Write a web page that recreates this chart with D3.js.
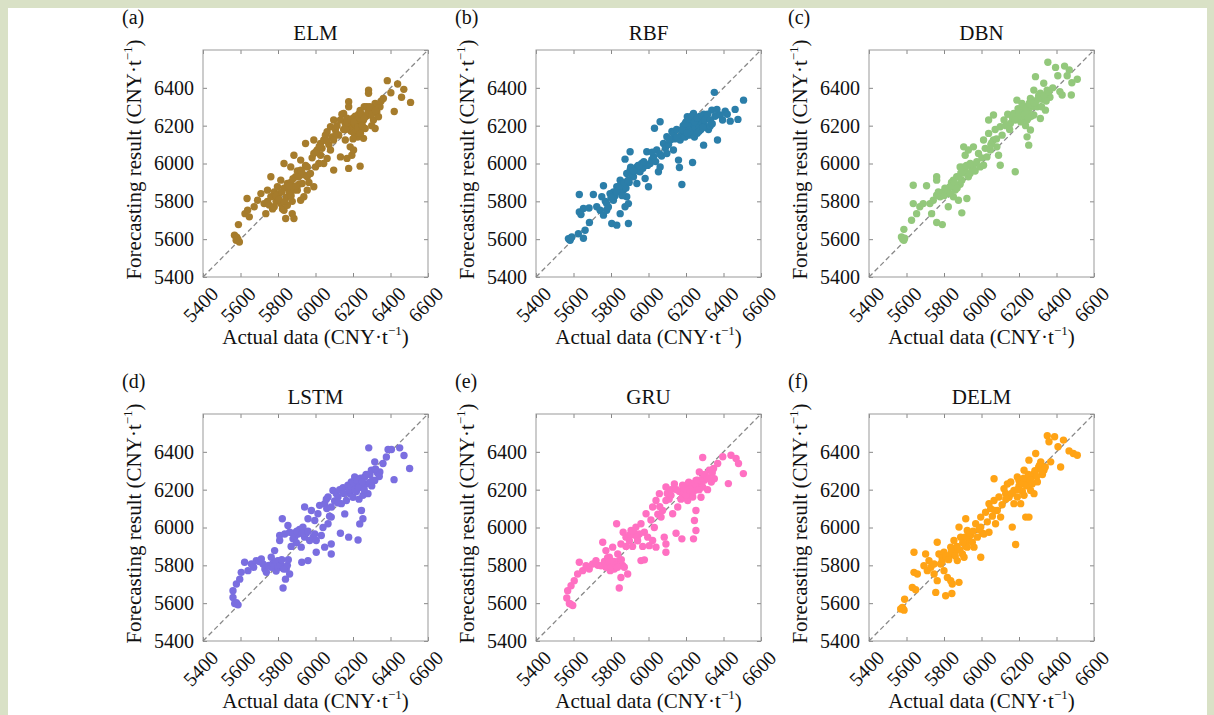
<!DOCTYPE html>
<html>
<head>
<meta charset="utf-8">
<script src="https://cdn.jsdelivr.net/npm/d3@7"></script>
<style>
  body { margin: 0; background: #d9e1c6; }
  svg { display: block; font-family: "Liberation Serif", "Times New Roman", serif; }
</style>
</head>
<body>
<svg id="chart" width="1214" height="715"></svg>
<script>
// forecast vs actual, CNY/t
const models = ["ELM", "RBF", "DBN", "LSTM", "GRU", "DELM"];
const panelTags = ["(a)", "(b)", "(c)", "(d)", "(e)", "(f)"];
const axisTicks = [5400, 5600, 5800, 6000, 6200, 6400, 6600];
const yTicks = [5400, 5600, 5800, 6000, 6200, 6400];

const elmPoints = [[5568,5621],[5577,5594],[5594,5585],[5586,5600],[5580,5610],[5589,5677],[5624,5735],[5635,5815],[5638,5753],[5647,5718],[5673,5771],[5691,5806],[5709,5841],[5726,5788],[5735,5735],[5744,5859],[5744,5800],[5753,5780],[5762,5930],[5762,5824],[5771,5760],[5780,5771],[5780,5850],[5790,5800],[5797,5877],[5797,5824],[5806,5840],[5815,5912],[5815,5788],[5824,5760],[5832,5753],[5832,6000],[5832,5870],[5841,5709],[5845,5820],[5850,5894],[5850,5779],[5859,5850],[5868,5982],[5868,5900],[5876,5735],[5876,5800],[5885,5709],[5885,6044],[5885,5860],[5894,5930],[5903,5859],[5903,5960],[5912,5890],[5921,6018],[5921,5965],[5921,5806],[5929,5894],[5938,5824],[5938,5940],[5947,6106],[5947,5990],[5956,5982],[5956,5930],[5956,5859],[5965,5900],[5973,5947],[5982,6030],[5991,6124],[5991,6053],[5991,5877],[6000,5982],[6009,6071],[6018,6000],[6027,6106],[6027,6044],[6035,6080],[6044,6124],[6044,6000],[6053,6150],[6062,6168],[6062,6027],[6071,6100],[6080,6194],[6080,6071],[6088,6140],[6097,6230],[6097,6124],[6097,5965],[6106,6180],[6115,6200],[6124,6150],[6133,6230],[6133,6035],[6141,6260],[6150,6265],[6150,6180],[6159,6124],[6159,6210],[6168,6027],[6168,6240],[6177,6327],[6177,6300],[6177,5974],[6180,6190],[6185,6088],[6185,6220],[6188,6195],[6190,6170],[6194,6044],[6194,6200],[6195,6215],[6198,6230],[6200,6240],[6203,6071],[6203,6194],[6205,6180],[6206,6160],[6210,6210],[6212,6250],[6215,6180],[6215,6205],[6220,6230],[6221,6212],[6225,6140],[6230,6260],[6238,6177],[6238,5986],[6238,6280],[6247,6220],[6256,6230],[6256,6133],[6260,6300],[6265,6185],[6270,6250],[6274,6300],[6283,6388],[6283,6371],[6291,6256],[6300,6200],[6309,6230],[6310,6290],[6318,6318],[6318,6185],[6327,6273],[6336,6247],[6344,6300],[6350,6330],[6362,6344],[6383,6438],[6402,6374],[6420,6275],[6438,6420],[6459,6350],[6471,6392],[6507,6323],
  [5790,5830],[5805,5810],[5820,5850],[5835,5800],[5860,5880],[5870,5830],[5880,5920],[5895,5880],[5910,5930],[5925,5960],[6160,6180],[6170,6215],[6190,6230],[6205,6220],[6225,6190],[6235,6240],[6245,6260],[6250,6200],[6260,6240],[6280,6270],[6290,6300],[6300,6260],[6320,6280],[6240,6160],[6200,6130],[6000,6060],[6020,6090],[6060,6120],[6110,6160]];

const rbfPoints = [[5573,5603],[5582,5594],[5591,5612],[5578,5598],[5586,5606],[5626,5629],[5653,5605],[5662,5647],[5631,5836],[5631,5744],[5653,5762],[5640,5730],[5685,5688],[5683,5765],[5706,5836],[5724,5771],[5742,5753],[5751,5824],[5760,5882],[5760,5727],[5770,5800],[5777,5753],[5777,5788],[5786,5770],[5795,5841],[5804,5683],[5813,5850],[5813,5806],[5822,5830],[5831,5877],[5831,5674],[5840,5860],[5849,5912],[5849,5735],[5858,5890],[5866,5859],[5875,6023],[5875,5771],[5880,5870],[5884,5947],[5884,5824],[5893,5788],[5893,5683],[5897,5900],[5902,6062],[5902,5965],[5910,5940],[5920,5930],[5925,5960],[5938,5982],[5938,5894],[5945,5990],[5955,5956],[5964,6000],[5970,5975],[5982,5921],[5991,6062],[5995,5990],[6000,5877],[6009,6000],[6018,6020],[6027,6035],[6032,6186],[6038,6010],[6044,6071],[6053,5956],[6062,6221],[6062,5982],[6070,6040],[6080,6106],[6090,6080],[6098,6142],[6098,6053],[6107,6100],[6116,6124],[6125,6170],[6133,6159],[6133,6071],[6140,6130],[6150,6180],[6160,6018],[6165,5979],[6169,6124],[6175,6150],[6178,5889],[6185,6200],[6190,6170],[6195,6140],[6200,6220],[6207,6247],[6210,6180],[6215,6150],[6220,6200],[6225,6230],[6230,6170],[6235,6005],[6240,6265],[6240,6210],[6245,6140],[6250,6190],[6255,6230],[6260,6160],[6267,6238],[6270,6200],[6275,6250],[6280,6180],[6285,6220],[6294,6097],[6295,6260],[6300,6200],[6310,6240],[6320,6180],[6329,6198],[6338,6282],[6351,6376],[6355,6250],[6365,6286],[6368,6124],[6383,6256],[6395,6230],[6409,6277],[6420,6260],[6436,6224],[6462,6286],[6477,6233],[6507,6335],
  [5800,5820],[5830,5850],[5845,5880],[5860,5830],[5870,5900],[5890,5910],[5905,5980],[5920,5960],[5950,5990],[5975,6010],[6180,6180],[6195,6210],[6205,6160],[6215,6235],[6230,6250],[6245,6220],[6260,6240],[6270,6170],[6285,6250],[6290,6190],[6300,6230],[6315,6260],[6330,6230],[6340,6210],[6150,6140],[6110,6130],[6060,6050],[6020,6060]];

const dbnPoints = [[5573,5612],[5586,5594],[5580,5600],[5590,5605],[5586,5652],[5627,5700],[5636,5885],[5636,5788],[5654,5735],[5671,5771],[5689,5788],[5707,5882],[5725,5788],[5734,5735],[5743,5806],[5761,5930],[5761,5912],[5761,5832],[5761,5688],[5770,5850],[5779,5824],[5791,5677],[5796,5850],[5805,5870],[5814,5841],[5823,5771],[5832,5877],[5840,5900],[5850,5912],[5850,5824],[5860,5860],[5868,5930],[5877,5806],[5886,5982],[5886,5890],[5895,5912],[5895,5739],[5905,6088],[5905,5950],[5913,6044],[5913,5965],[5922,5815],[5930,6071],[5930,5930],[5939,5947],[5948,5980],[5957,6088],[5957,5991],[5966,5960],[5975,6010],[5984,6053],[5993,5982],[6002,6030],[6011,6124],[6011,5991],[6020,6080],[6029,6035],[6038,6230],[6038,6159],[6047,6071],[6055,6110],[6064,6256],[6064,6124],[6073,6180],[6082,6088],[6091,6044],[6100,6194],[6100,5991],[6110,6150],[6120,6230],[6130,6200],[6140,6260],[6154,6212],[6165,6240],[6172,6265],[6180,5956],[6189,6335],[6195,6290],[6200,6250],[6207,6282],[6210,6220],[6216,6318],[6220,6270],[6225,6240],[6230,6300],[6235,6200],[6243,6230],[6243,6141],[6250,6280],[6252,6097],[6256,6320],[6261,6344],[6261,6177],[6265,6250],[6270,6300],[6279,6388],[6279,6256],[6288,6459],[6290,6330],[6297,6300],[6305,6360],[6314,6371],[6314,6238],[6325,6340],[6332,6424],[6341,6282],[6350,6388],[6354,6535],[6365,6350],[6380,6400],[6395,6508],[6407,6464],[6418,6380],[6430,6362],[6443,6515],[6457,6464],[6468,6494],[6479,6362],[6482,6427],[6511,6445],
  [5800,5830],[5820,5860],[5835,5840],[5845,5880],[5855,5900],[5870,5870],[5880,5930],[5890,5950],[5900,5980],[5920,5990],[5940,6000],[6200,6270],[6215,6250],[6230,6260],[6240,6290],[6250,6240],[6260,6310],[6280,6320],[6300,6340],[6320,6300],[6335,6360],[6345,6330],[6360,6380],[6180,6230],[6150,6180],[6080,6130],[6050,6100]];

const lstmPoints = [[5560,5630],[5569,5598],[5578,5603],[5587,5591],[5580,5595],[5560,5666],[5578,5701],[5596,5727],[5604,5763],[5622,5816],[5640,5772],[5658,5807],[5670,5790],[5684,5825],[5700,5820],[5711,5834],[5720,5807],[5730,5780],[5738,5763],[5750,5800],[5764,5843],[5764,5790],[5773,5810],[5782,5878],[5790,5770],[5800,5825],[5809,5931],[5809,5958],[5815,5790],[5818,5798],[5823,6046],[5827,5680],[5836,5966],[5840,5727],[5844,5781],[5850,5800],[5853,6011],[5862,5975],[5862,5754],[5870,5900],[5880,5940],[5889,5949],[5898,5920],[5907,5966],[5915,5990],[5924,5896],[5927,5816],[5933,6002],[5942,6108],[5942,5949],[5950,5970],[5960,6046],[5960,5825],[5969,5931],[5978,6090],[5987,5950],[5996,6037],[5996,5966],[6004,5931],[6004,5869],[6013,6073],[6022,6117],[6031,5958],[6040,6000],[6049,6126],[6049,5896],[6058,6150],[6067,6161],[6067,6020],[6075,6060],[6084,6108],[6084,6055],[6084,5913],[6084,5860],[6093,6196],[6102,6140],[6110,6180],[6120,6161],[6129,6200],[6133,5970],[6138,6126],[6147,6210],[6156,6072],[6165,6143],[6173,6223],[6177,5949],[6182,6180],[6191,6241],[6195,6200],[6200,6160],[6209,6267],[6212,6220],[6218,6190],[6227,6232],[6227,5934],[6232,6150],[6236,6019],[6240,6260],[6245,6214],[6245,6090],[6253,6170],[6253,6046],[6262,6267],[6270,6230],[6280,6179],[6284,6421],[6290,6280],[6298,6303],[6305,6250],[6316,6347],[6316,6249],[6330,6290],[6343,6294],[6360,6338],[6378,6373],[6387,6412],[6405,6412],[6419,6253],[6449,6421],[6472,6381],[6502,6312],
  [5780,5800],[5790,5820],[5800,5790],[5810,5800],[5820,5830],[5830,5780],[5855,5830],[5880,5970],[5900,5980],[5930,5970],[5960,5980],[6180,6200],[6190,6220],[6200,6240],[6210,6200],[6220,6250],[6230,6210],[6250,6240],[6260,6200],[6270,6280],[6290,6240],[6300,6220],[6320,6310],[6340,6270],[6150,6180],[6120,6130],[6060,6100]];

const gruPoints = [[5564,5627],[5578,5598],[5596,5588],[5585,5595],[5569,5666],[5587,5692],[5604,5719],[5622,5754],[5631,5816],[5649,5772],[5667,5798],[5684,5781],[5702,5807],[5720,5825],[5730,5800],[5747,5798],[5756,5922],[5765,5820],[5773,5790],[5773,5878],[5782,5840],[5791,5843],[5796,5772],[5800,5810],[5809,5896],[5809,5807],[5818,5780],[5830,6020],[5836,5860],[5844,5825],[5844,5680],[5853,5913],[5853,5736],[5862,5800],[5865,5975],[5871,5790],[5880,5949],[5889,5754],[5898,5930],[5907,5984],[5915,5900],[5925,5960],[5933,6002],[5942,5930],[5951,5966],[5960,6020],[5960,5825],[5969,5900],[5978,5975],[5978,5829],[5987,6073],[5996,5949],[6004,5904],[6013,6040],[6022,6108],[6022,5931],[6031,6000],[6040,6143],[6040,5896],[6050,6070],[6058,6179],[6067,6055],[6075,6090],[6084,5949],[6093,6214],[6093,6143],[6093,5913],[6093,5869],[6100,6180],[6110,6150],[6120,6200],[6129,6073],[6138,6230],[6147,5970],[6156,6108],[6165,6190],[6173,6150],[6178,5940],[6182,6223],[6182,6161],[6190,6180],[6200,6200],[6209,6205],[6209,6143],[6215,6240],[6222,6170],[6230,6190],[6236,6232],[6236,6161],[6240,5940],[6245,6037],[6253,6249],[6253,6090],[6253,5984],[6262,6200],[6271,6294],[6275,6230],[6280,6160],[6289,6370],[6289,6214],[6298,6250],[6307,6267],[6315,6200],[6325,6303],[6335,6240],[6347,6312],[6351,6258],[6369,6338],[6396,6374],[6426,6232],[6440,6382],[6467,6365],[6480,6338],[6506,6285],
  [5780,5800],[5790,5815],[5800,5790],[5815,5820],[5825,5800],[5835,5790],[5855,5830],[5880,5900],[5900,5960],[5920,5980],[5940,5950],[6190,6210],[6200,6170],[6210,6230],[6220,6200],[6230,6220],[6240,6190],[6250,6230],[6260,6250],[6270,6200],[6290,6260],[6300,6280],[6320,6260],[6340,6290],[6150,6200],[6120,6170],[6060,6110]];

const delmPoints = [[5569,5569],[5578,5577],[5587,5563],[5582,5570],[5590,5621],[5631,5683],[5640,5869],[5640,5763],[5649,5671],[5658,5754],[5693,5798],[5702,5860],[5711,5772],[5720,5825],[5730,5790],[5747,5807],[5747,5754],[5756,5657],[5764,5922],[5764,5719],[5773,5860],[5782,5807],[5790,5840],[5800,5869],[5800,5772],[5809,5639],[5818,5736],[5827,5851],[5836,5896],[5836,5719],[5842,5651],[5844,5701],[5853,5931],[5853,5860],[5862,5880],[5871,5825],[5880,6002],[5880,5710],[5889,5949],[5898,5860],[5907,5843],[5916,6046],[5916,5900],[5924,5984],[5924,5896],[5933,5930],[5942,5960],[5951,5922],[5960,5896],[5969,6020],[5978,5949],[5987,5990],[5996,6055],[5996,6002],[5996,5843],[6004,5970],[6013,5966],[6022,6081],[6031,6030],[6040,6126],[6040,5975],[6049,6100],[6058,6060],[6067,6258],[6067,6143],[6075,6020],[6084,6090],[6093,6161],[6102,6055],[6110,6120],[6120,6205],[6129,6180],[6138,6230],[6147,6160],[6156,6241],[6164,6002],[6173,6196],[6173,6126],[6182,5910],[6191,6267],[6191,6161],[6200,6220],[6209,6232],[6209,6126],[6218,6190],[6227,6303],[6227,6170],[6236,6055],[6244,6249],[6253,6356],[6253,6055],[6262,6196],[6270,6270],[6280,6285],[6280,6179],[6289,6391],[6298,6241],[6305,6320],[6316,6347],[6325,6280],[6333,6303],[6351,6485],[6360,6453],[6369,6347],[6390,6480],[6408,6427],[6422,6320],[6437,6462],[6467,6405],[6490,6391],[6511,6382],
  [5790,5820],[5810,5850],[5825,5830],[5840,5870],[5860,5850],[5870,5900],[5885,5880],[5900,5920],[5915,5950],[5935,5970],[5955,5980],[6190,6200],[6200,6250],[6215,6230],[6225,6260],[6240,6220],[6250,6280],[6260,6250],[6270,6230],[6285,6300],[6295,6270],[6310,6330],[6320,6300],[6340,6320],[6160,6180],[6130,6150],[6070,6090]];

const series = [elmPoints, rbfPoints, dbnPoints, lstmPoints, gruPoints, delmPoints];
const dotColors = ["#a67c2c", "#2b7ea9", "#93c87c", "#7a6ee0", "#ff70c2", "#ffa315"];

const colLeft = [203, 536, 869];
const rowTop = [50, 414];
const pw = 225, ph = 227;

const svg = d3.select("#chart");

// white sheet inside the green frame
svg.append("rect")
    .attr("x", 8).attr("y", 8)
    .attr("width", 1199).attr("height", 707)
    .attr("fill", "#fff");

const x = d3.scaleLinear().domain([5400, 6600]).range([0, pw]);
const y = d3.scaleLinear().domain([5400, 6600]).range([ph, 0]);
const fmt = d3.format("d");

models.forEach((name, i) => {
    const g = svg.append("g")
        .attr("transform", `translate(${colLeft[i % 3]},${rowTop[Math.floor(i / 3)]})`);

    // inward ticks on all four sides
    g.append("g")
        .attr("transform", `translate(0,${ph})`)
        .call(d3.axisBottom(x).tickValues(axisTicks).tickFormat(fmt).tickSizeInner(-4).tickSizeOuter(0))
        .call(a => a.select(".domain").remove())
        .call(a => a.selectAll(".tick line").attr("stroke", "#888"))
        .call(a => a.selectAll(".tick text")
            .attr("y", 0).attr("dy", 0)
            .attr("transform", "translate(6,8) rotate(-45)")
            .attr("text-anchor", "end")
            .attr("dominant-baseline", "hanging")
            .attr("font-size", 20)
            .attr("font-family", "Liberation Serif, serif")
            .attr("fill", "#111"));

    g.append("g")
        .call(d3.axisLeft(y).tickValues(yTicks).tickFormat(fmt).tickSizeInner(-4).tickSizeOuter(0).tickPadding(9))
        .call(a => a.select(".domain").remove())
        .call(a => a.selectAll(".tick line").attr("stroke", "#888"))
        .call(a => a.selectAll(".tick text")
            .attr("font-size", 20)
            .attr("font-family", "Liberation Serif, serif")
            .attr("fill", "#111"));

    g.append("g")
        .call(d3.axisTop(x).tickValues(axisTicks).tickSizeInner(-4).tickSizeOuter(0).tickFormat(""))
        .call(a => a.select(".domain").remove())
        .call(a => a.selectAll(".tick line").attr("stroke", "#888"));

    g.append("g")
        .attr("transform", `translate(${pw},0)`)
        .call(d3.axisRight(y).tickValues(axisTicks).tickSizeInner(-4).tickSizeOuter(0).tickFormat(""))
        .call(a => a.select(".domain").remove())
        .call(a => a.selectAll(".tick line").attr("stroke", "#888"));

    g.append("rect")
        .attr("width", pw).attr("height", ph)
        .attr("fill", "none")
        .attr("stroke", "#999")
        .attr("stroke-width", 1);

    // 1:1 reference line
    g.append("line")
        .attr("x1", x(5400)).attr("y1", y(5400))
        .attr("x2", x(6600)).attr("y2", y(6600))
        .attr("stroke", "#888")
        .attr("stroke-width", 1.3)
        .attr("stroke-dasharray", "5,3");

    g.append("g")
        .selectAll("circle")
        .data(series[i])
        .join("circle")
        .attr("cx", d => x(d[0]))
        .attr("cy", d => y(d[1]))
        .attr("r", 3.7)
        .attr("fill", dotColors[i]);

    g.append("text")
        .attr("x", pw / 2).attr("y", -10)
        .attr("text-anchor", "middle")
        .attr("font-size", 21)
        .attr("fill", "#111")
        .text(name);

    g.append("text")
        .attr("x", -81).attr("y", -26)
        .attr("font-size", 20)
        .attr("fill", "#111")
        .text(panelTags[i]);

    const yl = g.append("text")
        .attr("transform", `translate(-62,${ph / 2 - 4}) rotate(-90)`)
        .attr("text-anchor", "middle")
        .attr("font-size", 21)
        .attr("fill", "#111");
    yl.append("tspan").text("Forecasting result (CNY·t");
    yl.append("tspan").attr("font-size", 13).attr("dy", -9).text("−1");
    yl.append("tspan").attr("dy", 9).text(")");

    const xl = g.append("text")
        .attr("x", pw / 2).attr("y", ph + 67)
        .attr("text-anchor", "middle")
        .attr("font-size", 21)
        .attr("fill", "#111");
    xl.append("tspan").text("Actual data (CNY·t");
    xl.append("tspan").attr("font-size", 13).attr("dy", -9).text("−1");
    xl.append("tspan").attr("dy", 9).text(")");
});
</script>
</body>
</html>
